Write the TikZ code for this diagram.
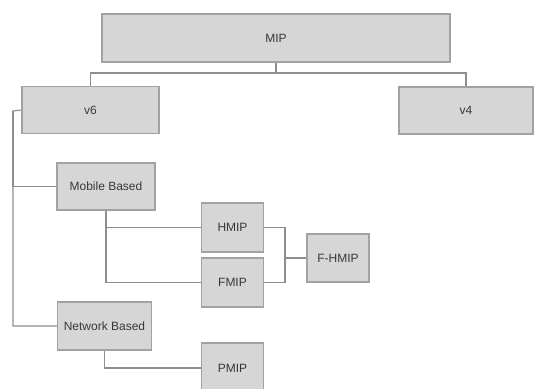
\documentclass[tikz,border=0pt]{standalone}
\usepackage{fontspec}
\setmainfont{Liberation Sans}
\usepackage{tikz}

\definecolor{boxfill}{HTML}{D6D6D6}
\definecolor{boxline}{HTML}{A2A2A2}
\definecolor{wire}{HTML}{8E8E8E}
\definecolor{label}{HTML}{383838}

\begin{document}
\begin{tikzpicture}[x=1pt,y=-1pt, bnode/.style={draw=boxline,fill=boxfill,line width=1.3pt,rectangle,inner sep=0pt,text=label,font=\fontsize{12}{14}\selectfont}, wire/.style={draw=wire,line width=1.1pt}]
    \useasboundingbox (0,0) rectangle (535,388);

    \node[bnode,minimum width=348pt,minimum height=48pt] (mip) at (276,38) {MIP};
    \node[bnode,minimum width=137pt,minimum height=47pt] (v6) at (90.5,110) {v6};
    \node[bnode,minimum width=134pt,minimum height=47pt] (v4) at (466,110.5) {v4};
    \node[bnode,minimum width=98pt,minimum height=47pt] (mob) at (106,186.5) {Mobile Based};
    \node[bnode,minimum width=94pt,minimum height=48pt] (net) at (104.5,326) {Network Based};
    \node[bnode,minimum width=62pt,minimum height=49pt] (hmip) at (232.5,227.5) {HMIP};
    \node[bnode,minimum width=62pt,minimum height=49pt] (fmip) at (232.5,282.5) {FMIP};
    \node[bnode,minimum width=62pt,minimum height=48pt] (fhmip) at (338,258) {F-HMIP};
    \node[bnode,minimum width=62pt,minimum height=50pt] (pmip) at (232.5,368) {PMIP};

    \coordinate (top) at (276,73);
    \coordinate (trunk) at (13,111);
    \coordinate (join) at (285,258);

    \draw[wire] (mip.south) -- (top);
    \draw[wire] (top) -| (v6.north);
    \draw[wire] (top) -| (v4.north);
    \draw[wire] (v6.west) -- (trunk) |- (net.west);
    \draw[wire] (trunk) |- (mob.west);
    \draw[wire] (mob.south) |- (hmip.west);
    \draw[wire] (mob.south) |- (fmip.west);
    \draw[wire] (hmip.east) -| (join) |- (fmip.east);
    \draw[wire] (join) -- (fhmip.west);
    \draw[wire] (net.south) |- (pmip.west);
\end{tikzpicture}
\end{document}
